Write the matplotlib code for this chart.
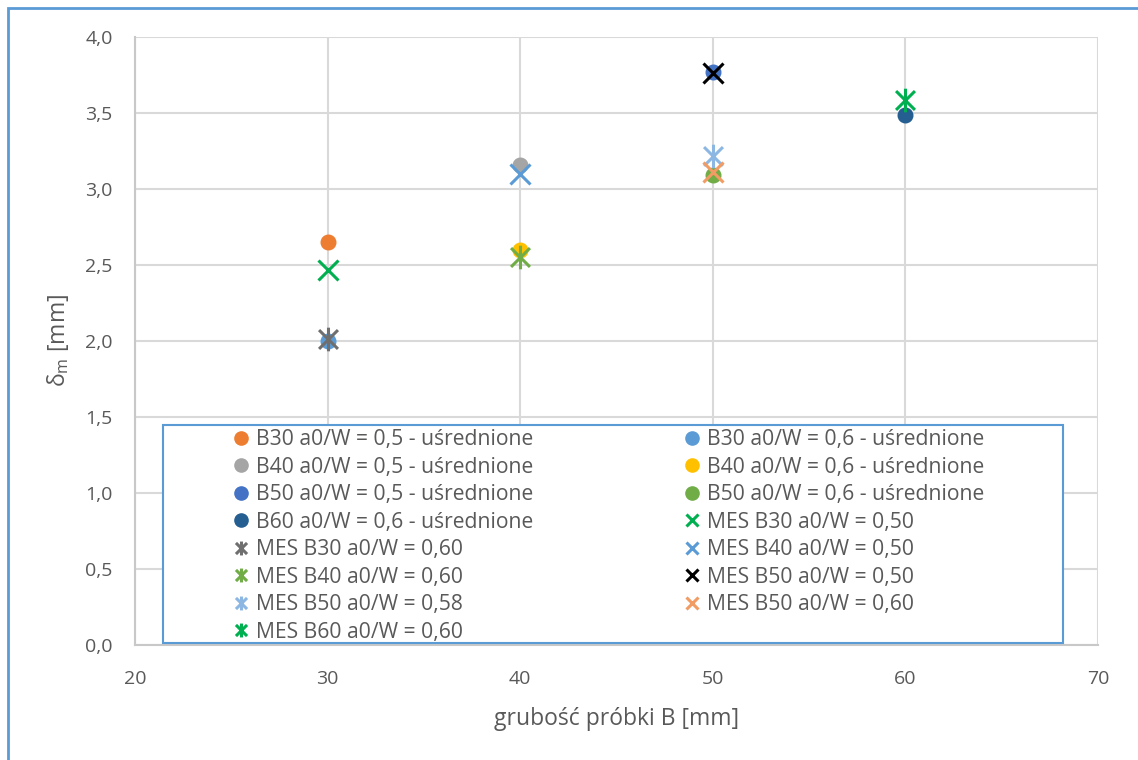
import matplotlib
matplotlib.use("Agg")
import matplotlib.pyplot as plt
from matplotlib.path import Path
from matplotlib.lines import Line2D
from matplotlib.patches import Rectangle
from matplotlib.ticker import FuncFormatter, MultipleLocator

plt.rcParams['font.family'] = ['Open Sans', 'DejaVu Sans']
plt.rcParams['mathtext.fontset'] = 'custom'
plt.rcParams['mathtext.rm'] = 'Open Sans'
plt.rcParams['mathtext.it'] = 'Open Sans:italic'

# ---- data ----
labels = [
    "B30 a0/W = 0,5 - uśrednione",
    "B30 a0/W = 0,6 - uśrednione",
    "B40 a0/W = 0,5 - uśrednione",
    "B40 a0/W = 0,6 - uśrednione",
    "B50 a0/W = 0,5 - uśrednione",
    "B50 a0/W = 0,6 - uśrednione",
    "B60 a0/W = 0,6 - uśrednione",
    "MES B30 a0/W = 0,50",
    "MES B30 a0/W = 0,60",
    "MES B40 a0/W = 0,50",
    "MES B40 a0/W = 0,60",
    "MES B50 a0/W = 0,50",
    "MES B50 a0/W = 0,58",
    "MES B50 a0/W = 0,60",
    "MES B60 a0/W = 0,60",
]
x_values = [30, 30, 40, 40, 50, 50, 60, 30, 30, 40, 40, 50, 50, 50, 60]
y_values = [2.65, 2.00, 3.16, 2.60, 3.77, 3.09, 3.49,
            2.47, 2.01, 3.10, 2.55, 3.76, 3.22, 3.11, 3.585]
colors = ["#ED7D31", "#5B9BD5", "#A5A5A5", "#FFC000", "#4472C4", "#70AD47", "#255E91",
          "#00B050", "#6F6F6F", "#5B9BD5", "#70AD47", "#000000", "#8DB7E3", "#F19C64", "#00B050"]
kinds = ["o", "o", "o", "o", "o", "o", "o",
         "x", "star", "x", "star", "x", "star", "x", "star"]

x_ticks = [20, 30, 40, 50, 60, 70]
x_label = "grubość próbki B [mm]"
y_label = "δ$_{\\mathrm{m}}$ [mm]"

# star marker: X with vertical line
star_path = Path(
    [(-1, -1), (1, 1), (-1, 1), (1, -1), (0, -1.25), (0, 1.25)],
    [Path.MOVETO, Path.LINETO, Path.MOVETO, Path.LINETO, Path.MOVETO, Path.LINETO],
)

W, H = 1138, 760
fig = plt.figure(figsize=(W / 100, H / 100), dpi=100)
ax = fig.add_axes([135 / W, 1 - 645 / H, (1098 - 135) / W, (645 - 37) / H])

handles = []
for lab, xv, yv, c, k in zip(labels, x_values, y_values, colors, kinds):
    if k == "o":
        ax.plot([xv], [yv], linestyle="none", marker="o", markersize=10.5,
                markerfacecolor=c, markeredgecolor=c, label=lab, zorder=3)
        handles.append(Line2D([], [], linestyle="none", marker="o", markersize=9.5,
                              markerfacecolor=c, markeredgecolor=c))
    elif k == "x":
        ax.plot([xv], [yv], linestyle="none", marker="x", markersize=14,
                markeredgewidth=2.2, color=c, label=lab, zorder=4)
        handles.append(Line2D([], [], linestyle="none", marker="x", markersize=8.5,
                              markeredgewidth=2.2, color=c))
    else:
        ax.plot([xv], [yv], linestyle="none", marker=star_path, markersize=17,
                markeredgewidth=2.2, markerfacecolor="none", markeredgecolor=c,
                color=c, label=lab, zorder=4)
        handles.append(Line2D([], [], linestyle="none", marker=star_path, markersize=10,
                              markeredgewidth=2.2, markerfacecolor="none",
                              markeredgecolor=c))

ax.set_xlim(20, 70)
ax.set_ylim(0, 4.0)
ax.set_xticks(x_ticks)
ax.yaxis.set_major_locator(MultipleLocator(0.5))
ax.yaxis.set_major_formatter(FuncFormatter(lambda v, p: f"{v:.1f}".replace(".", ",")))
ax.grid(True, color="#D9D9D9", linewidth=1.5, zorder=0)
ax.set_axisbelow(True)
for s in ["top", "right"]:
    ax.spines[s].set_visible(False)
for s in ["left", "bottom"]:
    ax.spines[s].set_color("#C8C8C8")
    ax.spines[s].set_linewidth(1.5)
ax.tick_params(axis="y", length=0, pad=16, labelsize=14, labelcolor="#595959")
ax.tick_params(axis="x", length=0, pad=18, labelsize=14, labelcolor="#595959")

ax.set_xlabel(x_label, fontsize=16.5, color="#595959", labelpad=14)
ax.set_ylabel(y_label, fontsize=16.5, color="#595959", labelpad=10)

# legend frame (white box with blue border)
fig.patches.append(Rectangle((163 / W, 1 - 643 / H), (1063 - 163) / W, (643 - 425) / H,
                             transform=fig.transFigure, facecolor="white",
                             edgecolor="#5B9BD5", linewidth=1.5, zorder=2))

# two legend columns, row-major order
fs = 15.2
col1 = list(range(0, len(handles), 2))
col2 = list(range(1, len(handles), 2))
for idx, x0 in ((col1, 235), (col2, 686)):
    leg = fig.legend([handles[i] for i in idx], [labels[i] for i in idx],
                     loc="upper left", bbox_to_anchor=(x0 / W, 1 - 429 / H),
                     fontsize=fs, handlelength=0.55,
                     handletextpad=0.45, labelspacing=0.31, borderpad=0,
                     borderaxespad=0, frameon=False, labelcolor="#595959")
    leg.set_zorder(5)

# outer chart border
fig.patches.append(Rectangle((8 / W, -0.05), 1.2, 1 - 8 / H + 0.05, transform=fig.transFigure,
                             fill=False, edgecolor="#5B9BD5", linewidth=2, zorder=6))

fig.savefig("out.png", dpi=100)
